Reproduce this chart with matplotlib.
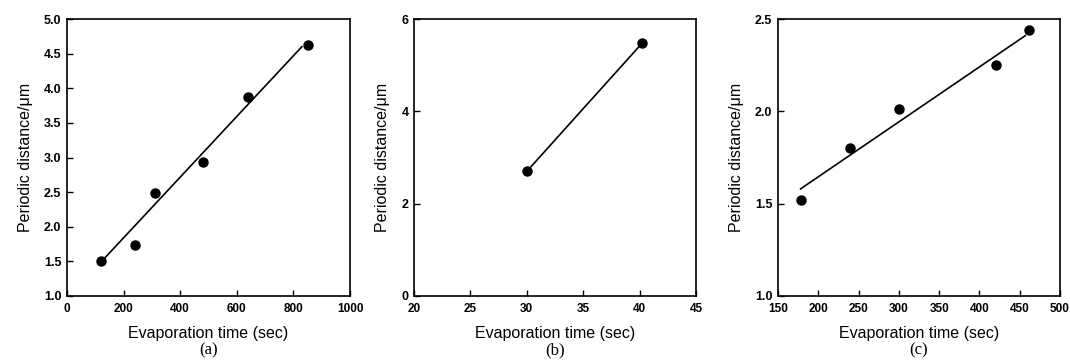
import matplotlib.pyplot as plt

plt.rcParams['font.family'] = ['Liberation Sans', 'DejaVu Sans']

# panel (a)
time_a = [120, 240, 310, 480, 640, 850]
dist_a = [1.50, 1.73, 2.49, 2.94, 3.88, 4.63]
fit_x_a = [120, 830]
fit_y_a = [1.49, 4.60]

# panel (b)
time_b = [30.0, 40.2]
dist_b = [2.70, 5.47]

# panel (c)
time_c = [178, 239, 300, 420, 461]
dist_c = [1.52, 1.80, 2.01, 2.25, 2.44]
fit_x_c = [178, 457]
fit_y_c = [1.58, 2.41]

W, H = 1070, 364
fig = plt.figure(figsize=(W / 100, H / 100), dpi=100)


def make_axes(left, right, top=19, bottom=296):
    return fig.add_axes([left / W, 1 - bottom / H, (right - left) / W, (bottom - top) / H])


def style(ax, caption):
    for s in ax.spines.values():
        s.set_linewidth(1.2)
    ax.tick_params(direction='in', length=4, width=1)
    ax.tick_params(axis='x', pad=5, labelsize=8.5)
    ax.tick_params(axis='y', pad=4, labelsize=9)
    for lab in ax.get_xticklabels() + ax.get_yticklabels():
        lab.set_fontweight('bold')
    ax.set_xlabel('Evaporation time (sec)', fontsize=11.5, labelpad=8)
    ax.set_ylabel('Periodic distance/\u03bcm', fontsize=11.5, labelpad=8)
    ax.text(0.5, -0.168, caption, transform=ax.transAxes, ha='center', va='top',
            fontsize=12, family=['Liberation Serif', 'DejaVu Serif'])


ax1 = make_axes(67, 350)
ax1.plot(fit_x_a, fit_y_a, color='black', lw=1.2)
ax1.plot(time_a, dist_a, 'o', color='black', ms=6.5)
ax1.set_xlim(0, 1000)
ax1.set_ylim(1.0, 5.0)
ax1.set_xticks([0, 200, 400, 600, 800, 1000])
ax1.set_yticks([1.0, 1.5, 2.0, 2.5, 3.0, 3.5, 4.0, 4.5, 5.0])
ax1.set_yticklabels(['%.1f' % v for v in ax1.get_yticks()])
style(ax1, '(a)')

ax2 = make_axes(414, 696)
ax2.plot(time_b, dist_b, '-o', color='black', lw=1.2, ms=6.5)
ax2.set_xlim(20, 45)
ax2.set_ylim(0, 6)
ax2.set_xticks([20, 25, 30, 35, 40, 45])
ax2.set_yticks([0, 2, 4, 6])
style(ax2, '(b)')

ax3 = make_axes(778, 1060)
ax3.plot(fit_x_c, fit_y_c, color='black', lw=1.2)
ax3.plot(time_c, dist_c, 'o', color='black', ms=6.5)
ax3.set_xlim(150, 500)
ax3.set_ylim(1.0, 2.5)
ax3.set_xticks([150, 200, 250, 300, 350, 400, 450, 500])
ax3.set_yticks([1.0, 1.5, 2.0, 2.5])
ax3.set_yticklabels(['%.1f' % v for v in ax3.get_yticks()])
style(ax3, '(c)')

fig.savefig('out.png', dpi=100)
